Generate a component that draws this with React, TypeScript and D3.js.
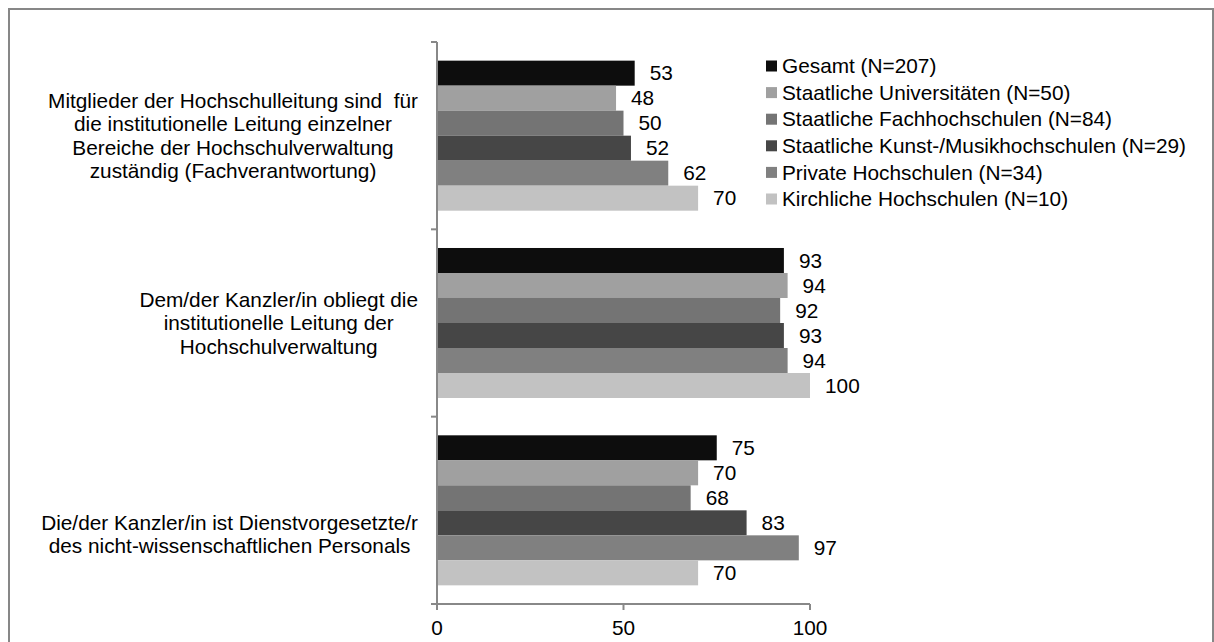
import * as d3 from "d3";
import { useEffect, useRef } from "react";

// Category labels (one entry per wrapped line)
const categories = [
    ["Mitglieder der Hochschulleitung sind  für", "die institutionelle Leitung einzelner", "Bereiche der Hochschulverwaltung", "zuständig (Fachverantwortung)"],
    ["Dem/der Kanzler/in obliegt die", "institutionelle Leitung der", "Hochschulverwaltung"],
    ["Die/der Kanzler/in ist Dienstvorgesetzte/r", "des nicht-wissenschaftlichen Personals"],
];

const seriesNames = [
    "Gesamt (N=207)",
    "Staatliche Universitäten (N=50)",
    "Staatliche Fachhochschulen (N=84)",
    "Staatliche Kunst-/Musikhochschulen (N=29)",
    "Private Hochschulen (N=34)",
    "Kirchliche Hochschulen (N=10)",
];

// values per category, in series order
const valuesCat1 = [53, 48, 50, 52, 62, 70];
const valuesCat2 = [93, 94, 92, 93, 94, 100];
const valuesCat3 = [75, 70, 68, 83, 97, 70];
const values = [valuesCat1, valuesCat2, valuesCat3];

const xTicks = [0, 50, 100];

const colors = ["#0d0d0d", "#a0a0a0", "#747474", "#464646", "#808080", "#c2c2c2"];

const W = 1214;
const H = 642;
const FONT = "'Liberation Sans', Arial, sans-serif";
const FS = 20.8;
const axisColor = "#888888";
// vertical shift of the category labels (the last one sits lower in the original)
const labelShift = [0, 0, 24];

export default function App() {
    const svgRef = useRef<SVGSVGElement>(null);

    useEffect(() => {
        if (!svgRef.current) return;
        const svg = d3.select(svgRef.current);
        svg.selectAll("*").remove();

        // outer frame
        svg.append("rect")
            .attr("x", 9).attr("y", 9)
            .attr("width", 1204).attr("height", 700)
            .attr("fill", "white")
            .attr("stroke", "#878787")
            .attr("stroke-width", 2);

        const x = d3.scaleLinear().domain([0, 100]).range([437, 810]);
        const y = d3.scaleBand<number>().domain(d3.range(categories.length)).range([42, 604]);
        const inner = d3.scaleBand<number>()
            .domain(d3.range(seriesNames.length))
            .range([0, y.bandwidth()])
            .paddingOuter(0.746);

        // bars + value labels
        values.forEach((vals, ci) => {
            const g = svg.append("g").attr("transform", `translate(0,${y(ci)})`);
            vals.forEach((v, si) => {
                g.append("rect")
                    .attr("x", x(0))
                    .attr("y", inner(si)!)
                    .attr("width", x(v) - x(0))
                    .attr("height", inner.bandwidth())
                    .attr("fill", colors[si]);
                g.append("text")
                    .attr("x", x(v) + 15)
                    .attr("y", inner(si)! + inner.bandwidth() / 2)
                    .attr("dy", "0.35em")
                    .attr("font-family", FONT)
                    .attr("font-size", FS)
                    .attr("fill", "#000")
                    .text(v);
            });
        });

        // y axis line + ticks at band edges
        const edges = [...y.domain().map((d) => y(d)!), 604];
        svg.append("line")
            .attr("x1", x(0)).attr("x2", x(0))
            .attr("y1", 42).attr("y2", 604)
            .attr("stroke", axisColor).attr("stroke-width", 2);
        edges.forEach((e) => {
            svg.append("line")
                .attr("x1", x(0) - 6).attr("x2", x(0))
                .attr("y1", e).attr("y2", e)
                .attr("stroke", axisColor).attr("stroke-width", 2);
        });

        // x axis
        svg.append("line")
            .attr("x1", x(0)).attr("x2", x(100))
            .attr("y1", 604).attr("y2", 604)
            .attr("stroke", axisColor).attr("stroke-width", 2);
        xTicks.forEach((t) => {
            svg.append("line")
                .attr("x1", x(t)).attr("x2", x(t))
                .attr("y1", 604).attr("y2", 610)
                .attr("stroke", axisColor).attr("stroke-width", 2);
            svg.append("text")
                .attr("x", x(t))
                .attr("y", 628)
                .attr("dy", "0.35em")
                .attr("text-anchor", "middle")
                .attr("font-family", FONT)
                .attr("font-size", FS)
                .text(t);
        });

        // category labels: lines centred, block right-aligned next to the axis
        categories.forEach((lines, ci) => {
            const lineH = 23.6;
            const cy = y(ci)! + y.bandwidth() / 2 + labelShift[ci];
            const g = svg.append("g");
            const t = g.append("text")
                .attr("text-anchor", "middle")
                .attr("font-family", FONT)
                .attr("font-size", FS)
                .attr("fill", "#000");
            lines.forEach((l, li) => {
                t.append("tspan")
                    .attr("x", 0)
                    .attr("y", cy + (li - (lines.length - 1) / 2) * lineH)
                    .attr("dy", "0.35em")
                    .style("white-space", "pre")
                    .text(l);
            });
            const w = (t.node() as SVGTextElement).getBBox().width;
            g.attr("transform", `translate(${418 - w / 2},0)`);
        });

        // legend
        seriesNames.forEach((name, si) => {
            const ly = 66 + si * 26.6;
            svg.append("rect")
                .attr("x", 766).attr("y", ly - 5.5)
                .attr("width", 11).attr("height", 11)
                .attr("fill", colors[si]);
            svg.append("text")
                .attr("x", 782).attr("y", ly)
                .attr("dy", "0.35em")
                .attr("font-family", FONT)
                .attr("font-size", FS)
                .attr("fill", "#000")
                .text(name);
        });
    }, []);

    return (
        <svg
            ref={svgRef}
            width={W}
            height={H}
            style={{ position: "absolute", left: 0, top: 0, background: "white" }}
        />
    );
}
